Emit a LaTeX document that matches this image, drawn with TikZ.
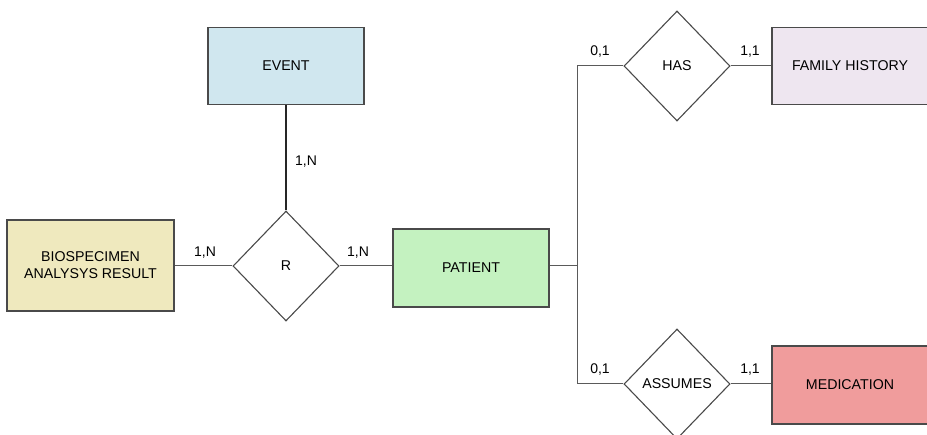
\documentclass[tikz,border=0pt]{standalone}
\usepackage{fontspec}
\setmainfont{Liberation Sans}
\usetikzlibrary{shapes.geometric}
\definecolor{eventfill}{HTML}{D0E7EF}
\definecolor{biofill}{HTML}{EFE9BE}
\definecolor{patientfill}{HTML}{C4F2C0}
\definecolor{familyfill}{HTML}{EEE6F0}
\definecolor{medfill}{HTML}{F09C9C}
\definecolor{edgegray}{HTML}{4A4A4A}
\definecolor{linkgray}{HTML}{5A5A5A}
\tikzset{
  entity/.style={draw=edgegray, line width=1.3pt, minimum width=156pt, minimum height=77pt,
    inner sep=0pt, align=center, font=\fontsize{14.2}{17}\selectfont},
  relation/.style={draw=edgegray, line width=1.1pt, shape=diamond, fill=white,
    minimum width=106pt, minimum height=110pt, inner sep=0pt, font=\fontsize{14.2}{16}\selectfont},
  link/.style={draw=linkgray, line width=1pt},
  card/.style={font=\fontsize{14}{16}\selectfont, inner sep=0pt}
}
\begin{document}
\begin{tikzpicture}[x=1pt,y=-1pt]
\useasboundingbox (0,0) rectangle (927,435);

% entities
\node[entity, fill=eventfill] (event) at (286,66) {EVENT};
\node[entity, fill=biofill, minimum width=167pt, minimum height=91pt] (bio) at (90.5,265.5)
  {BIOSPECIMEN\\ANALYSYS RESULT};
\node[entity, fill=patientfill, minimum height=78pt] (patient) at (471,268) {PATIENT};
\node[entity, fill=familyfill] (family) at (850,66) {FAMILY HISTORY};
\node[entity, fill=medfill, minimum height=78pt] (med) at (850,385) {MEDICATION};

% relationships
\node[relation] (r) at (286,266) {R};
\node[relation] (has) at (677,66) {HAS};
\node[relation] (assumes) at (677,384) {ASSUMES};

% connectors
\draw[link, draw=black!85, line width=2pt] (event.south) -- (r.north);
\draw[link] (bio.east |- r.west) -- (r.west);
\draw[link] (r.east) -- (patient.west |- r.east);
\coordinate (junction) at (577,266);
\coordinate (jtop) at (577,66);
\coordinate (jbot) at (577,384);
\draw[link] (patient.east |- junction) -- (junction);
\draw[link] (has.west) -- (jtop) -- (jbot) -- (assumes.west);
\draw[link] (has.east) -- (family.west |- has.east);
\draw[link] (assumes.east) -- (med.west |- assumes.east);

% cardinalities
\node[card] (c1) at (306,162) {1,N};
\node[card] (c2) at (205,253) {1,N};
\node[card] (c3) at (358,253) {1,N};
\node[card] (c4) at (600,52) {0,1};
\node[card] (c5) at (750,52) {1,1};
\node[card] (c6) at (600,370) {0,1};
\node[card] (c7) at (750,370) {1,1};
\end{tikzpicture}
\end{document}
